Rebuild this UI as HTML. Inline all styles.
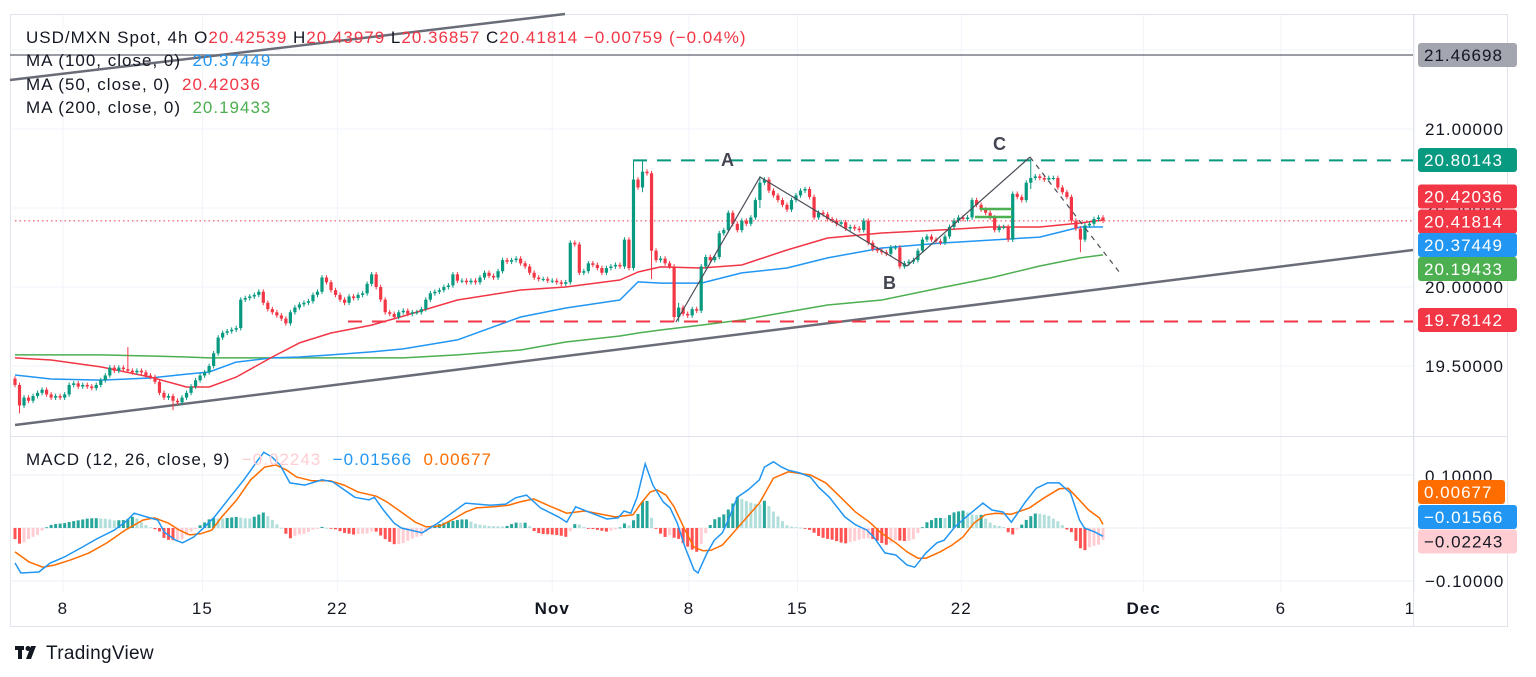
<!DOCTYPE html>
<html><head><meta charset="utf-8">
<style>
html,body{margin:0;padding:0;background:#fff;}
svg{display:block;font-family:"Liberation Sans",sans-serif;}
text{white-space:pre;letter-spacing:1px;}
</style></head>
<body>
<svg id="chart" width="1536" height="677" viewBox="0 0 1536 677">
  <rect x="0" y="0" width="1536" height="677" fill="#fff"/>
  <rect x="10.5" y="14.5" width="1497" height="612" fill="none" stroke="#e0e3eb"/>
  <g id="grid"></g>
  <g id="overlays-back"></g>
  <g id="ma-lines"></g>
  <g id="candles"></g>
  <g id="overlays"></g>
  <g id="macd"></g>
  <line x1="10" y1="436.5" x2="1508" y2="436.5" stroke="#e0e3eb"/>
  <line x1="1413.5" y1="14" x2="1413.5" y2="627" stroke="#e0e3eb"/>
  <g id="axis"></g>

  <g font-size="17">
    <text x="26" y="43"><tspan fill="#131722">USD/MXN Spot, 4h O</tspan><tspan fill="#f23645">20.42539</tspan><tspan fill="#131722"> H</tspan><tspan fill="#f23645">20.43979</tspan><tspan fill="#131722"> L</tspan><tspan fill="#f23645">20.36857</tspan><tspan fill="#131722"> C</tspan><tspan fill="#f23645">20.41814 −0.00759 (−0.04%)</tspan></text>
    <text x="26" y="66"><tspan fill="#131722">MA (100, close, 0)  </tspan><tspan fill="#2196f3">20.37449</tspan></text>
    <text x="26" y="90"><tspan fill="#131722">MA (50, close, 0)  </tspan><tspan fill="#f23645">20.42036</tspan></text>
    <text x="26" y="113"><tspan fill="#131722">MA (200, close, 0)  </tspan><tspan fill="#4caf50">20.19433</tspan></text>
    <text x="26" y="465"><tspan fill="#131722">MACD (12, 26, close, 9)  </tspan><tspan fill="#ffcdd2">−0.02243</tspan><tspan fill="#2196f3">  −0.01566</tspan><tspan fill="#ff6d00">  0.00677</tspan></text>
  </g>

  <g>
    <rect x="15" y="646" width="9" height="4" fill="#131722"/>
    <rect x="18" y="646" width="4" height="13" fill="#131722"/>
    <circle cx="28" cy="648.5" r="2.5" fill="#131722"/>
    <polygon points="31,646 36,646 31,659 26,659" fill="#131722"/>
    <text x="46" y="659" font-size="19" fill="#131722" style="letter-spacing:0.3px">TradingView</text>
  </g>
</svg>
<script>
// ===== Price data (4h bars) =====
const closes = [
19.38,19.25,19.30,19.28,19.31,19.33,19.35,19.32,19.30,19.31,
19.30,19.32,19.38,19.39,19.37,19.38,19.37,19.36,19.38,19.41,
19.44,19.49,19.47,19.49,19.48,19.47,19.46,19.47,19.46,19.44,
19.43,19.40,19.33,19.30,19.31,19.28,19.27,19.30,19.33,19.37,
19.41,19.44,19.46,19.50,19.58,19.68,19.71,19.72,19.73,19.74,
19.92,19.93,19.94,19.95,19.97,19.90,19.86,19.84,19.82,19.80,
19.77,19.84,19.87,19.89,19.90,19.91,19.95,19.97,20.06,20.03,
19.98,19.95,19.92,19.90,19.94,19.93,19.95,19.96,20.02,20.08,
20.00,19.92,19.84,19.83,19.81,19.84,19.85,19.83,19.84,19.84,
19.86,19.92,19.96,19.97,19.98,20.00,20.01,20.08,20.04,20.04,
20.03,20.04,20.03,20.06,20.09,20.07,20.06,20.10,20.17,20.16,
20.17,20.18,20.15,20.13,20.09,20.06,20.05,20.05,20.04,20.04,
20.03,20.02,20.03,20.28,20.27,20.09,20.10,20.15,20.14,20.12,
20.09,20.12,20.13,20.14,20.13,20.30,20.12,20.68,20.63,20.73,
20.72,20.23,20.17,20.18,20.15,20.13,19.81,19.87,19.83,19.82,
19.86,19.85,20.13,20.19,20.17,20.19,20.34,20.36,20.47,20.40,
20.36,20.42,20.40,20.44,20.55,20.66,20.68,20.61,20.58,20.55,
20.52,20.49,20.55,20.58,20.61,20.62,20.57,20.44,20.47,20.46,
20.43,20.42,20.40,20.41,20.37,20.38,20.37,20.36,20.42,20.28,
20.24,20.23,20.22,20.21,20.25,20.25,20.13,20.15,20.16,20.17,
20.23,20.30,20.32,20.30,20.29,20.28,20.32,20.38,20.42,20.44,
20.43,20.44,20.55,20.52,20.49,20.47,20.44,20.36,20.38,20.38,
20.30,20.59,20.57,20.55,20.66,20.69,20.70,20.69,20.68,20.69,
20.69,20.63,20.60,20.57,20.42,20.37,20.30,20.39,20.40,20.43,
20.44,20.42];
const firstOpen = 19.42;
// notable wick extremes: [barIndex, high, low]
const wickSpikes = [[1,19.36,19.20],[25,19.62,19.46],[35,19.31,19.22],[137,20.80,20.12],[139,20.80,20.60],[141,20.73,20.05],[146,20.13,19.78],[147,19.90,19.78],[225,20.81,20.62],[236,20.38,20.22],[165,20.70,20.50]];

// moving averages sampled at bar indices
const maIdx  = [0,8,19,30,38,43,49,57,63,70,79,86,98,112,122,134,138,143,152,161,171,180,192,205,216,227,236,241];
const ma50   = [19.551,19.538,19.494,19.430,19.367,19.367,19.430,19.557,19.646,19.709,19.759,19.816,19.918,19.981,20.000,20.044,20.095,20.127,20.120,20.139,20.234,20.310,20.342,20.361,20.380,20.380,20.405,20.424];
const ma100  = [19.443,19.418,19.411,19.424,19.449,19.462,19.525,19.551,19.557,19.570,19.589,19.608,19.665,19.810,19.867,19.918,20.032,20.025,20.025,20.089,20.120,20.184,20.247,20.278,20.297,20.316,20.380,20.380];
const ma200  = [19.570,19.570,19.570,19.563,19.557,19.551,19.551,19.551,19.551,19.551,19.551,19.551,19.570,19.601,19.652,19.690,19.709,19.728,19.759,19.791,19.842,19.886,19.918,19.994,20.057,20.133,20.184,20.203];

// MACD line and signal sampled at bar indices
const macdIdx = [0,1.3,5.3,7.8,10.9,14.9,18,22,24.4,26.4,29.1,31.6,33.1,35.6,37.1,39.6,42,44.2,47.6,50.7,53.8,55.1,56.9,58.7,60.9,64.2,68,70.4,72.9,75.3,78.4,79.6,81.6,84,85.6,90.2,93.6,96.7,99.8,105.3,108.7,110.9,113.3,116.4,120.4,122.2,124.2,127.1,131.1,133.6,134.9,136.4,137.8,139.6,141.3,143.6,145.1,146.7,148.4,150.4,151.3,153.3,154.9,156.7,158.2,160,162.4,164.9,166,168,169.8,171.3,173.8,176.2,178,180.4,183.8,186.2,188.7,190.2,192.7,195.1,197.6,199.3,201.8,204.2,205.8,208.2,210.7,214.4,216.4,218.9,220.7,223.8,226.2,228.7,231.3,233.8,235.8,236.9,239.3,241];
const macdVals = [-0.066,-0.085,-0.083,-0.066,-0.055,-0.036,-0.021,-0.004,0.011,0.028,0.021,0.015,-0.008,-0.023,-0.028,-0.017,0.002,0.021,0.058,0.091,0.128,0.143,0.134,0.119,0.085,0.081,0.091,0.087,0.072,0.058,0.053,0.058,0.034,0.009,0,-0.009,0.009,0.028,0.047,0.043,0.045,0.057,0.062,0.038,0.021,0.011,0.040,0.030,0.017,0.019,0.032,0.028,0.058,0.121,0.081,0.049,0.038,0.009,-0.036,-0.079,-0.085,-0.047,-0.023,-0.009,0.019,0.058,0.072,0.091,0.115,0.125,0.115,0.109,0.104,0.096,0.077,0.058,0.021,0.006,-0.004,-0.017,-0.047,-0.051,-0.070,-0.074,-0.047,-0.028,-0.023,0.002,0.021,0.047,0.034,0.030,0.011,0.049,0.075,0.085,0.085,0.066,0.015,0,-0.008,-0.01566];
const sigIdx = [0,3.1,6.2,8.7,12.4,16.4,20.4,24.4,28.4,30.9,34,36.4,38.7,41.1,43.6,45.8,49.1,52.2,55.3,57.8,60.2,62.4,65.8,69.8,72.9,76,80,82.4,85.6,88.7,91.1,94.2,97.6,99.8,102.2,106.2,109.3,111.8,114.9,118,122.2,126.2,132.9,136.9,138.7,140.7,142.2,144.2,146,148.4,150.4,152.4,154.2,156.7,159.1,161.6,164.9,168,171.3,176.2,179.6,182.9,186.2,189.3,191.8,195.1,197.6,200,201.8,204.9,207.6,210,212.4,214.9,217.3,220.7,224.7,228,231.3,233.3,235.3,237.8,240.2,241];
const sigVals = [-0.045,-0.064,-0.074,-0.070,-0.060,-0.047,-0.028,-0.004,0.015,0.019,0.009,-0.004,-0.013,-0.011,-0.004,0.021,0.053,0.091,0.115,0.119,0.109,0.096,0.089,0.089,0.081,0.068,0.060,0.049,0.030,0.011,0.002,0.004,0.019,0.030,0.038,0.040,0.043,0.049,0.055,0.043,0.028,0.032,0.021,0.025,0.047,0.068,0.072,0.062,0.040,-0.004,-0.036,-0.043,-0.042,-0.032,-0.009,0.015,0.047,0.094,0.106,0.100,0.085,0.058,0.030,0.011,-0.009,-0.028,-0.045,-0.057,-0.057,-0.045,-0.032,-0.017,0.009,0.025,0.028,0.026,0.038,0.057,0.074,0.075,0.057,0.034,0.019,0.00677];

const priceTicks = ["21.00000","20.50000","20.00000","19.50000"];
const priceTickVals = [21.0,20.5,20.0,19.5];
const macdTickVals = [0.1,0,-0.1];
const dateLabels = ["8","15","22","Nov","8","15","22","Dec","6","11"];
const dateBold = [false,false,false,true,false,false,false,true,false,false];
const dateBarIdx = [10.6,41.5,71.4,119,149.3,173.3,209.6,250,280.4,310];

// ===== scales =====
const X0 = 15, STEP = (1103-15)/241;
function xOf(i){ return X0 + i*STEP; }
function yP(p){ return 129 + (21-p)*158; }
function yM(v){ return 528 - v*530; }
function interp(xs, ys, t){
  if (t<=xs[0]) return ys[0];
  for (let k=1;k<xs.length;k++){ if (t<=xs[k]){ const f=(t-xs[k-1])/(xs[k]-xs[k-1]); return ys[k-1]+f*(ys[k]-ys[k-1]); } }
  return ys[ys.length-1];
}
const NS = "http://www.w3.org/2000/svg";
function mk(tag, attrs, parent){ const e=document.createElementNS(NS,tag); for (const k in attrs) e.setAttribute(k, attrs[k]); parent.appendChild(e); return e; }

// ===== grid =====
const grid = document.getElementById('grid');
priceTickVals.concat([21.5]).forEach(v=>{
  const l = mk('line',{x1:10,x2:1413,y1:yP(v),y2:yP(v),stroke:'#f0f3fa','stroke-width':1},grid);
  
  
});
macdTickVals.forEach(v=>{
  const l = mk('line',{x1:10,x2:1413,y1:yM(v),y2:yM(v),stroke:'#f0f3fa','stroke-width':1.5},grid);
  
  
});
dateBarIdx.forEach(i=>{
  const x = xOf(i);
  const l = mk('line',{x1:x,x2:x,y1:15,y2:592,stroke:'#f0f3fa','stroke-width':1},grid);
  
  
});

// ===== background drawings =====
const ob = document.getElementById('overlays-back');
let e;
e = mk('line',{x1:10,y1:55,x2:1413,y2:55,stroke:'#787b86','stroke-width':1.5},ob);


e = mk('line',{x1:10,y1:80,x2:565,y2:14,stroke:'#6a6d78','stroke-width':2.5},ob);


e = mk('line',{x1:15,y1:425,x2:1413,y2:250,stroke:'#6a6d78','stroke-width':2.5},ob);


e = mk('line',{x1:15,y1:yP(20.41814),x2:1413,y2:yP(20.41814),stroke:'#f23645','stroke-width':1,'stroke-dasharray':'1.5 3'},ob);



// ===== MA lines =====
const mag = document.getElementById('ma-lines');
[[ma200,'#4caf50','ma200-line'],[ma100,'#2196f3','ma100-line'],[ma50,'#f23645','ma50-line']].forEach(([arr,col,name])=>{
  const pts = maIdx.map((i,k)=>xOf(i).toFixed(1)+','+yP(arr[k]).toFixed(1)).join(' ');
  const pl = mk('polyline',{points:pts,fill:'none',stroke:col,'stroke-width':1.5,'stroke-linejoin':'round'},mag);
  
  
});

// ===== candles =====
const cg = document.getElementById('candles');
closes.forEach((c,i)=>{
  const o = i===0 ? firstOpen : closes[i-1];
  let hi = Math.max(o,c)+0.015, lo = Math.min(o,c)-0.015;
  wickSpikes.forEach(s=>{ if (s[0]===i){ hi=Math.max(hi,s[1]); lo=Math.min(lo,s[2]); } });
  const up = c>=o, col = up ? '#089981' : '#f23645';
  const x = xOf(i);
  const g = mk('g',{},cg);
  
  
  mk('line',{x1:x,x2:x,y1:yP(hi),y2:yP(lo),stroke:col,'stroke-width':1},g);
  const yt = yP(Math.max(o,c)), yb = yP(Math.min(o,c));
  mk('rect',{x:x-1.6,y:yt,width:3.2,height:Math.max(1,yb-yt),fill:col},g);
});

// ===== foreground drawings =====
const ov = document.getElementById('overlays');
e = mk('line',{x1:633,y1:yP(20.80143),x2:1413,y2:yP(20.80143),stroke:'#089981','stroke-width':2,'stroke-dasharray':'14 10'},ov);


e = mk('line',{x1:348,y1:yP(19.78142),x2:1413,y2:yP(19.78142),stroke:'#f23645','stroke-width':2,'stroke-dasharray':'14 10'},ov);


e = mk('polyline',{points:'676,322 760,177 907,266 1030,157',fill:'none',stroke:'#4a4d57','stroke-width':1.2},ov);


e = mk('line',{x1:1030,y1:157,x2:1120,y2:273,stroke:'#4a4d57','stroke-width':1.2,'stroke-dasharray':'5 5'},ov);


e = mk('line',{x1:980,y1:209,x2:1012,y2:209,stroke:'#4caf50','stroke-width':2.5},ov);


e = mk('line',{x1:975,y1:217,x2:1012,y2:217,stroke:'#4caf50','stroke-width':2.5},ov);


[['A',728,166],['B',890,289],['C',1000,150]].forEach(([t,x,y])=>{
  const tx = mk('text',{x:x,y:y,'font-size':18,'font-weight':'bold',fill:'#434651','text-anchor':'middle'},ov);
  tx.textContent = t;
  
  
});

// ===== MACD =====
const mg = document.getElementById('macd');
for (let i=0;i<closes.length;i++){
  const h = interp(macdIdx,macdVals,i) - interp(sigIdx,sigVals,i);
  const hp = i>0 ? interp(macdIdx,macdVals,i-1) - interp(sigIdx,sigVals,i-1) : h;
  let col;
  if (h>=0) col = h>=hp ? '#26a69a' : '#b2dfdb';
  else col = h<=hp ? '#ff5252' : '#ffcdd2';
  const y0 = yM(0), y1 = yM(h);
  const r = mk('rect',{x:xOf(i)-1.5,y:Math.min(y0,y1),width:3,height:Math.max(0.8,Math.abs(y1-y0)),fill:col},mg);
  
  
}
e = mk('polyline',{points:sigIdx.map((i,k)=>xOf(i).toFixed(1)+','+yM(sigVals[k]).toFixed(1)).join(' '),fill:'none',stroke:'#ff6d00','stroke-width':1.5},mg);


e = mk('polyline',{points:macdIdx.map((i,k)=>xOf(i).toFixed(1)+','+yM(macdVals[k]).toFixed(1)).join(' '),fill:'none',stroke:'#2196f3','stroke-width':1.5},mg);



// ===== axes =====
const ax = document.getElementById('axis');
priceTickVals.forEach((v,k)=>{
  const t = mk('text',{x:1425,y:yP(v)+6,'font-size':17,fill:'#131722'},ax);
  t.textContent = priceTicks[k];
  
  
});
[["0.10000",476],["−0.10000",581]].forEach(([s,y])=>{
  const t = mk('text',{x:1425,y:y+6,'font-size':17,fill:'#131722'},ax);
  t.textContent = s;
  
  
});
dateLabels.forEach((s,k)=>{
  const x = xOf(dateBarIdx[k]);
  if (x>1420) return;
  const t = mk('text',{x:x,y:614,'font-size':17,fill:'#131722','text-anchor':'middle','font-weight':dateBold[k]?'bold':'normal'},ax);
  t.textContent = s;
  
  
});
// cover clipped date label under price axis
mk('rect',{x:1414,y:592,width:93,height:34,fill:'#fff'},ax);
const badges = [
  ["21.46698",55,'#a3a6af','#131722','badge-21-46698'],
  ["20.80143",160,'#089981','#fff','badge-20-80143'],
  ["20.42036",196.5,'#f23645','#fff','badge-ma50'],
  ["20.41814",221.5,'#f23645','#fff','badge-last-price'],
  ["20.37449",245,'#2196f3','#fff','badge-ma100'],
  ["20.19433",269,'#4caf50','#fff','badge-ma200'],
  ["19.78142",320,'#f23645','#fff','badge-19-78142'],
  ["0.00677",492,'#ff6d00','#fff','badge-signal'],
  ["−0.01566",517,'#2196f3','#fff','badge-macd'],
  ["−0.02243",541.5,'#ffcdd2','#131722','badge-histogram']
];
badges.forEach(([s,y,bg,fg,name])=>{
  const g = mk('g',{},ax);
  
  
  const w = name==='badge-signal' ? 87 : 99;
  mk('rect',{x:1418,y:y-12,width:w,height:24,rx:3,fill:bg},g);
  const t = mk('text',{x:1424,y:y+6,'font-size':17,fill:fg},g);
  t.textContent = s;
});
</script>
</body></html>
